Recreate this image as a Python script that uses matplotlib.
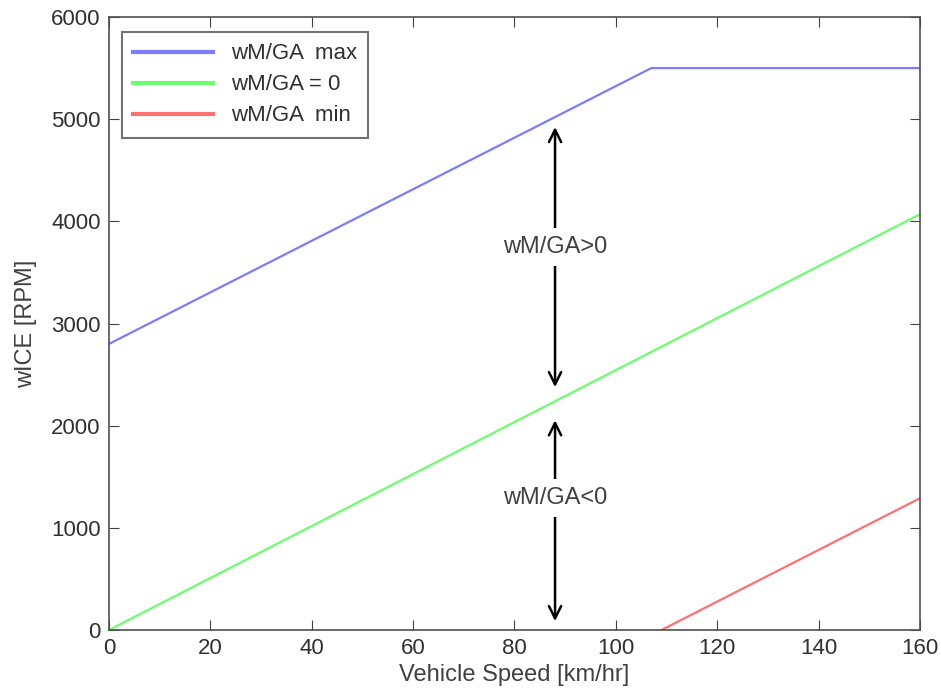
import numpy as np
import matplotlib.pyplot as plt

plt.rcParams['font.family'] = ['Liberation Sans', 'DejaVu Sans']

# values
speed_max = [0, 107, 160]
rpm_max = [2800, 5500, 5500]
speed_zero = [0, 160]
rpm_zero = [0, 4070]
speed_min = [109, 160]
rpm_min = [0, 1290]

arrow_x = 88
upper_span = (4950, 2350)
lower_span = (2080, 60)
label_y = [3750, 1290]
labels = ['wM/GA>0', 'wM/GA<0']

fig = plt.figure(figsize=(9.41, 6.96), dpi=100)
ax = fig.add_axes([0.1158, 0.0948, 0.8619, 0.8808])

ax.plot(speed_max, rpm_max, color='#7c7cff', lw=1.6, label='wM/GA  max')
ax.plot(speed_zero, rpm_zero, color='#6cff6c', lw=1.6, label='wM/GA = 0')
ax.plot(speed_min, rpm_min, color='#ff7070', lw=1.6, label='wM/GA  min')

for (top, bot), ty, txt in zip([upper_span, lower_span], label_y, labels):
    ax.annotate('', xy=(arrow_x, bot), xytext=(arrow_x, top),
                arrowprops=dict(arrowstyle='<->', color='black', lw=1.8,
                                mutation_scale=22))
    ax.text(arrow_x, ty, txt, ha='center', va='center',
            fontsize=17, color='#404040',
            bbox=dict(facecolor='white', edgecolor='none', pad=6))

ax.set_xlim(0, 160)
ax.set_ylim(0, 6000)
ax.set_xticks(np.arange(0, 161, 20))
ax.set_yticks(np.arange(0, 6001, 1000))
ax.tick_params(direction='in', top=True, right=True, length=7, pad=6,
               labelsize=16, labelcolor='#303030', color='#404040')
for s in ax.spines.values():
    s.set_color('#505050')
    s.set_linewidth(1.2)

ax.set_xlabel('Vehicle Speed [km/hr]', fontsize=17, color='#404040', labelpad=3)
ax.set_ylabel('wICE [RPM]', fontsize=17, color='#404040', labelpad=10)

leg = ax.legend(loc='upper left', fontsize=16, frameon=True, fancybox=False,
                edgecolor='#505050', handlelength=3.6, borderpad=0.5,
                labelspacing=0.45, borderaxespad=0,
                bbox_to_anchor=(0.016, 0.975))
leg.get_frame().set_linewidth(1.5)
for line in leg.get_lines():
    line.set_linewidth(3)
for t in leg.get_texts():
    t.set_color('#303030')

fig.savefig('out.png', dpi=100)
